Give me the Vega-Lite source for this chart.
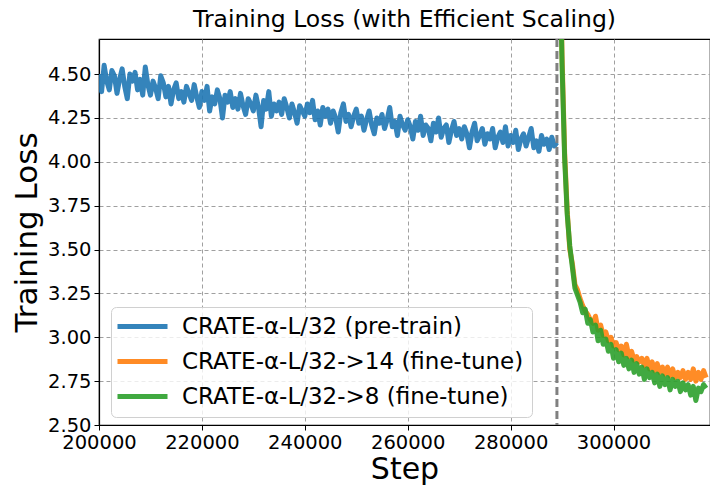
{
  "$schema": "https://vega.github.io/schema/vega-lite/v6.json",
  "width": 611,
  "height": 386,
  "autosize": {"type": "none"},
  "padding": {"left": 99, "top": 39, "right": 0, "bottom": 62},
  "title": {"text": "Training Loss (with Efficient Scaling)", "fontSize": 23.5, "fontWeight": "normal", "font": "DejaVu Sans", "color": "black", "offset": 6, "anchor": "middle"},
  "config": {
    "font": "DejaVu Sans",
    "view": {"stroke": "black", "strokeWidth": 1.2},
    "axis": {
      "grid": true, "gridDash": [4, 3], "gridColor": "#a0a0a0", "gridWidth": 1,
      "domainColor": "black", "domainWidth": 1.2, "tickColor": "black", "tickSize": 5,
      "labelFontSize": 19.5, "labelColor": "black", "labelPadding": 3,
      "titleFontSize": 30, "titleFontWeight": "normal", "titleColor": "black"
    }
  },
  "datasets": {
    "loss": [
      {"series": "CRATE-α-L/32 (pre-train)", "step": 200000, "loss": 4.50},
      {"series": "CRATE-α-L/32 (pre-train)", "step": 200500, "loss": 4.40},
      {"series": "CRATE-α-L/32 (pre-train)", "step": 201000, "loss": 4.55},
      {"series": "CRATE-α-L/32 (pre-train)", "step": 201500, "loss": 4.46},
      {"series": "CRATE-α-L/32 (pre-train)", "step": 202000, "loss": 4.41},
      {"series": "CRATE-α-L/32 (pre-train)", "step": 202500, "loss": 4.52},
      {"series": "CRATE-α-L/32 (pre-train)", "step": 203000, "loss": 4.49},
      {"series": "CRATE-α-L/32 (pre-train)", "step": 203500, "loss": 4.39},
      {"series": "CRATE-α-L/32 (pre-train)", "step": 204000, "loss": 4.47},
      {"series": "CRATE-α-L/32 (pre-train)", "step": 204500, "loss": 4.53},
      {"series": "CRATE-α-L/32 (pre-train)", "step": 205000, "loss": 4.43},
      {"series": "CRATE-α-L/32 (pre-train)", "step": 205500, "loss": 4.36},
      {"series": "CRATE-α-L/32 (pre-train)", "step": 206000, "loss": 4.50},
      {"series": "CRATE-α-L/32 (pre-train)", "step": 206500, "loss": 4.46},
      {"series": "CRATE-α-L/32 (pre-train)", "step": 207000, "loss": 4.51},
      {"series": "CRATE-α-L/32 (pre-train)", "step": 207500, "loss": 4.41},
      {"series": "CRATE-α-L/32 (pre-train)", "step": 208000, "loss": 4.47},
      {"series": "CRATE-α-L/32 (pre-train)", "step": 208500, "loss": 4.38},
      {"series": "CRATE-α-L/32 (pre-train)", "step": 209000, "loss": 4.54},
      {"series": "CRATE-α-L/32 (pre-train)", "step": 209500, "loss": 4.44},
      {"series": "CRATE-α-L/32 (pre-train)", "step": 210000, "loss": 4.38},
      {"series": "CRATE-α-L/32 (pre-train)", "step": 210500, "loss": 4.46},
      {"series": "CRATE-α-L/32 (pre-train)", "step": 211000, "loss": 4.42},
      {"series": "CRATE-α-L/32 (pre-train)", "step": 211500, "loss": 4.36},
      {"series": "CRATE-α-L/32 (pre-train)", "step": 212000, "loss": 4.49},
      {"series": "CRATE-α-L/32 (pre-train)", "step": 212500, "loss": 4.45},
      {"series": "CRATE-α-L/32 (pre-train)", "step": 213000, "loss": 4.37},
      {"series": "CRATE-α-L/32 (pre-train)", "step": 213500, "loss": 4.43},
      {"series": "CRATE-α-L/32 (pre-train)", "step": 214000, "loss": 4.33},
      {"series": "CRATE-α-L/32 (pre-train)", "step": 214500, "loss": 4.41},
      {"series": "CRATE-α-L/32 (pre-train)", "step": 215000, "loss": 4.45},
      {"series": "CRATE-α-L/32 (pre-train)", "step": 215500, "loss": 4.36},
      {"series": "CRATE-α-L/32 (pre-train)", "step": 216000, "loss": 4.40},
      {"series": "CRATE-α-L/32 (pre-train)", "step": 216500, "loss": 4.34},
      {"series": "CRATE-α-L/32 (pre-train)", "step": 217000, "loss": 4.43},
      {"series": "CRATE-α-L/32 (pre-train)", "step": 217500, "loss": 4.39},
      {"series": "CRATE-α-L/32 (pre-train)", "step": 218000, "loss": 4.35},
      {"series": "CRATE-α-L/32 (pre-train)", "step": 218500, "loss": 4.44},
      {"series": "CRATE-α-L/32 (pre-train)", "step": 219000, "loss": 4.37},
      {"series": "CRATE-α-L/32 (pre-train)", "step": 219500, "loss": 4.31},
      {"series": "CRATE-α-L/32 (pre-train)", "step": 220000, "loss": 4.40},
      {"series": "CRATE-α-L/32 (pre-train)", "step": 220500, "loss": 4.35},
      {"series": "CRATE-α-L/32 (pre-train)", "step": 221000, "loss": 4.43},
      {"series": "CRATE-α-L/32 (pre-train)", "step": 221500, "loss": 4.29},
      {"series": "CRATE-α-L/32 (pre-train)", "step": 222000, "loss": 4.37},
      {"series": "CRATE-α-L/32 (pre-train)", "step": 222500, "loss": 4.33},
      {"series": "CRATE-α-L/32 (pre-train)", "step": 223000, "loss": 4.41},
      {"series": "CRATE-α-L/32 (pre-train)", "step": 223500, "loss": 4.36},
      {"series": "CRATE-α-L/32 (pre-train)", "step": 224000, "loss": 4.25},
      {"series": "CRATE-α-L/32 (pre-train)", "step": 224500, "loss": 4.38},
      {"series": "CRATE-α-L/32 (pre-train)", "step": 225000, "loss": 4.34},
      {"series": "CRATE-α-L/32 (pre-train)", "step": 225500, "loss": 4.40},
      {"series": "CRATE-α-L/32 (pre-train)", "step": 226000, "loss": 4.31},
      {"series": "CRATE-α-L/32 (pre-train)", "step": 226500, "loss": 4.36},
      {"series": "CRATE-α-L/32 (pre-train)", "step": 227000, "loss": 4.30},
      {"series": "CRATE-α-L/32 (pre-train)", "step": 227500, "loss": 4.39},
      {"series": "CRATE-α-L/32 (pre-train)", "step": 228000, "loss": 4.32},
      {"series": "CRATE-α-L/32 (pre-train)", "step": 228500, "loss": 4.27},
      {"series": "CRATE-α-L/32 (pre-train)", "step": 229000, "loss": 4.36},
      {"series": "CRATE-α-L/32 (pre-train)", "step": 229500, "loss": 4.33},
      {"series": "CRATE-α-L/32 (pre-train)", "step": 230000, "loss": 4.29},
      {"series": "CRATE-α-L/32 (pre-train)", "step": 230500, "loss": 4.38},
      {"series": "CRATE-α-L/32 (pre-train)", "step": 231000, "loss": 4.31},
      {"series": "CRATE-α-L/32 (pre-train)", "step": 231500, "loss": 4.20},
      {"series": "CRATE-α-L/32 (pre-train)", "step": 232000, "loss": 4.35},
      {"series": "CRATE-α-L/32 (pre-train)", "step": 232500, "loss": 4.30},
      {"series": "CRATE-α-L/32 (pre-train)", "step": 233000, "loss": 4.40},
      {"series": "CRATE-α-L/32 (pre-train)", "step": 233500, "loss": 4.26},
      {"series": "CRATE-α-L/32 (pre-train)", "step": 234000, "loss": 4.33},
      {"series": "CRATE-α-L/32 (pre-train)", "step": 234500, "loss": 4.29},
      {"series": "CRATE-α-L/32 (pre-train)", "step": 235000, "loss": 4.34},
      {"series": "CRATE-α-L/32 (pre-train)", "step": 235500, "loss": 4.27},
      {"series": "CRATE-α-L/32 (pre-train)", "step": 236000, "loss": 4.36},
      {"series": "CRATE-α-L/32 (pre-train)", "step": 236500, "loss": 4.31},
      {"series": "CRATE-α-L/32 (pre-train)", "step": 237000, "loss": 4.25},
      {"series": "CRATE-α-L/32 (pre-train)", "step": 237500, "loss": 4.33},
      {"series": "CRATE-α-L/32 (pre-train)", "step": 238000, "loss": 4.28},
      {"series": "CRATE-α-L/32 (pre-train)", "step": 238500, "loss": 4.22},
      {"series": "CRATE-α-L/32 (pre-train)", "step": 239000, "loss": 4.32},
      {"series": "CRATE-α-L/32 (pre-train)", "step": 239500, "loss": 4.29},
      {"series": "CRATE-α-L/32 (pre-train)", "step": 240000, "loss": 4.26},
      {"series": "CRATE-α-L/32 (pre-train)", "step": 240500, "loss": 4.33},
      {"series": "CRATE-α-L/32 (pre-train)", "step": 241000, "loss": 4.28},
      {"series": "CRATE-α-L/32 (pre-train)", "step": 241500, "loss": 4.35},
      {"series": "CRATE-α-L/32 (pre-train)", "step": 242000, "loss": 4.24},
      {"series": "CRATE-α-L/32 (pre-train)", "step": 242500, "loss": 4.29},
      {"series": "CRATE-α-L/32 (pre-train)", "step": 243000, "loss": 4.21},
      {"series": "CRATE-α-L/32 (pre-train)", "step": 243500, "loss": 4.31},
      {"series": "CRATE-α-L/32 (pre-train)", "step": 244000, "loss": 4.26},
      {"series": "CRATE-α-L/32 (pre-train)", "step": 244500, "loss": 4.30},
      {"series": "CRATE-α-L/32 (pre-train)", "step": 245000, "loss": 4.22},
      {"series": "CRATE-α-L/32 (pre-train)", "step": 245500, "loss": 4.29},
      {"series": "CRATE-α-L/32 (pre-train)", "step": 246000, "loss": 4.25},
      {"series": "CRATE-α-L/32 (pre-train)", "step": 246500, "loss": 4.17},
      {"series": "CRATE-α-L/32 (pre-train)", "step": 247000, "loss": 4.28},
      {"series": "CRATE-α-L/32 (pre-train)", "step": 247500, "loss": 4.33},
      {"series": "CRATE-α-L/32 (pre-train)", "step": 248000, "loss": 4.23},
      {"series": "CRATE-α-L/32 (pre-train)", "step": 248500, "loss": 4.27},
      {"series": "CRATE-α-L/32 (pre-train)", "step": 249000, "loss": 4.20},
      {"series": "CRATE-α-L/32 (pre-train)", "step": 249500, "loss": 4.26},
      {"series": "CRATE-α-L/32 (pre-train)", "step": 250000, "loss": 4.30},
      {"series": "CRATE-α-L/32 (pre-train)", "step": 250500, "loss": 4.22},
      {"series": "CRATE-α-L/32 (pre-train)", "step": 251000, "loss": 4.26},
      {"series": "CRATE-α-L/32 (pre-train)", "step": 251500, "loss": 4.18},
      {"series": "CRATE-α-L/32 (pre-train)", "step": 252000, "loss": 4.24},
      {"series": "CRATE-α-L/32 (pre-train)", "step": 252500, "loss": 4.29},
      {"series": "CRATE-α-L/32 (pre-train)", "step": 253000, "loss": 4.21},
      {"series": "CRATE-α-L/32 (pre-train)", "step": 253500, "loss": 4.16},
      {"series": "CRATE-α-L/32 (pre-train)", "step": 254000, "loss": 4.25},
      {"series": "CRATE-α-L/32 (pre-train)", "step": 254500, "loss": 4.22},
      {"series": "CRATE-α-L/32 (pre-train)", "step": 255000, "loss": 4.27},
      {"series": "CRATE-α-L/32 (pre-train)", "step": 255500, "loss": 4.19},
      {"series": "CRATE-α-L/32 (pre-train)", "step": 256000, "loss": 4.24},
      {"series": "CRATE-α-L/32 (pre-train)", "step": 256500, "loss": 4.31},
      {"series": "CRATE-α-L/32 (pre-train)", "step": 257000, "loss": 4.20},
      {"series": "CRATE-α-L/32 (pre-train)", "step": 257500, "loss": 4.23},
      {"series": "CRATE-α-L/32 (pre-train)", "step": 258000, "loss": 4.15},
      {"series": "CRATE-α-L/32 (pre-train)", "step": 258500, "loss": 4.26},
      {"series": "CRATE-α-L/32 (pre-train)", "step": 259000, "loss": 4.21},
      {"series": "CRATE-α-L/32 (pre-train)", "step": 259500, "loss": 4.18},
      {"series": "CRATE-α-L/32 (pre-train)", "step": 260000, "loss": 4.24},
      {"series": "CRATE-α-L/32 (pre-train)", "step": 260500, "loss": 4.20},
      {"series": "CRATE-α-L/32 (pre-train)", "step": 261000, "loss": 4.13},
      {"series": "CRATE-α-L/32 (pre-train)", "step": 261500, "loss": 4.23},
      {"series": "CRATE-α-L/32 (pre-train)", "step": 262000, "loss": 4.18},
      {"series": "CRATE-α-L/32 (pre-train)", "step": 262500, "loss": 4.26},
      {"series": "CRATE-α-L/32 (pre-train)", "step": 263000, "loss": 4.15},
      {"series": "CRATE-α-L/32 (pre-train)", "step": 263500, "loss": 4.21},
      {"series": "CRATE-α-L/32 (pre-train)", "step": 264000, "loss": 4.19},
      {"series": "CRATE-α-L/32 (pre-train)", "step": 264500, "loss": 4.12},
      {"series": "CRATE-α-L/32 (pre-train)", "step": 265000, "loss": 4.22},
      {"series": "CRATE-α-L/32 (pre-train)", "step": 265500, "loss": 4.17},
      {"series": "CRATE-α-L/32 (pre-train)", "step": 266000, "loss": 4.25},
      {"series": "CRATE-α-L/32 (pre-train)", "step": 266500, "loss": 4.14},
      {"series": "CRATE-α-L/32 (pre-train)", "step": 267000, "loss": 4.19},
      {"series": "CRATE-α-L/32 (pre-train)", "step": 267500, "loss": 4.21},
      {"series": "CRATE-α-L/32 (pre-train)", "step": 268000, "loss": 4.11},
      {"series": "CRATE-α-L/32 (pre-train)", "step": 268500, "loss": 4.18},
      {"series": "CRATE-α-L/32 (pre-train)", "step": 269000, "loss": 4.23},
      {"series": "CRATE-α-L/32 (pre-train)", "step": 269500, "loss": 4.15},
      {"series": "CRATE-α-L/32 (pre-train)", "step": 270000, "loss": 4.19},
      {"series": "CRATE-α-L/32 (pre-train)", "step": 270500, "loss": 4.13},
      {"series": "CRATE-α-L/32 (pre-train)", "step": 271000, "loss": 4.20},
      {"series": "CRATE-α-L/32 (pre-train)", "step": 271500, "loss": 4.16},
      {"series": "CRATE-α-L/32 (pre-train)", "step": 272000, "loss": 4.08},
      {"series": "CRATE-α-L/32 (pre-train)", "step": 272500, "loss": 4.17},
      {"series": "CRATE-α-L/32 (pre-train)", "step": 273000, "loss": 4.22},
      {"series": "CRATE-α-L/32 (pre-train)", "step": 273500, "loss": 4.12},
      {"series": "CRATE-α-L/32 (pre-train)", "step": 274000, "loss": 4.15},
      {"series": "CRATE-α-L/32 (pre-train)", "step": 274500, "loss": 4.19},
      {"series": "CRATE-α-L/32 (pre-train)", "step": 275000, "loss": 4.10},
      {"series": "CRATE-α-L/32 (pre-train)", "step": 275500, "loss": 4.16},
      {"series": "CRATE-α-L/32 (pre-train)", "step": 276000, "loss": 4.13},
      {"series": "CRATE-α-L/32 (pre-train)", "step": 276500, "loss": 4.19},
      {"series": "CRATE-α-L/32 (pre-train)", "step": 277000, "loss": 4.08},
      {"series": "CRATE-α-L/32 (pre-train)", "step": 277500, "loss": 4.14},
      {"series": "CRATE-α-L/32 (pre-train)", "step": 278000, "loss": 4.17},
      {"series": "CRATE-α-L/32 (pre-train)", "step": 278500, "loss": 4.11},
      {"series": "CRATE-α-L/32 (pre-train)", "step": 279000, "loss": 4.20},
      {"series": "CRATE-α-L/32 (pre-train)", "step": 279500, "loss": 4.09},
      {"series": "CRATE-α-L/32 (pre-train)", "step": 280000, "loss": 4.15},
      {"series": "CRATE-α-L/32 (pre-train)", "step": 280500, "loss": 4.11},
      {"series": "CRATE-α-L/32 (pre-train)", "step": 281000, "loss": 4.18},
      {"series": "CRATE-α-L/32 (pre-train)", "step": 281500, "loss": 4.07},
      {"series": "CRATE-α-L/32 (pre-train)", "step": 282000, "loss": 4.13},
      {"series": "CRATE-α-L/32 (pre-train)", "step": 282500, "loss": 4.16},
      {"series": "CRATE-α-L/32 (pre-train)", "step": 283000, "loss": 4.09},
      {"series": "CRATE-α-L/32 (pre-train)", "step": 283500, "loss": 4.14},
      {"series": "CRATE-α-L/32 (pre-train)", "step": 284000, "loss": 4.19},
      {"series": "CRATE-α-L/32 (pre-train)", "step": 284500, "loss": 4.08},
      {"series": "CRATE-α-L/32 (pre-train)", "step": 285000, "loss": 4.12},
      {"series": "CRATE-α-L/32 (pre-train)", "step": 285500, "loss": 4.06},
      {"series": "CRATE-α-L/32 (pre-train)", "step": 286000, "loss": 4.15},
      {"series": "CRATE-α-L/32 (pre-train)", "step": 286500, "loss": 4.10},
      {"series": "CRATE-α-L/32 (pre-train)", "step": 287000, "loss": 4.13},
      {"series": "CRATE-α-L/32 (pre-train)", "step": 287500, "loss": 4.07},
      {"series": "CRATE-α-L/32 (pre-train)", "step": 288000, "loss": 4.14},
      {"series": "CRATE-α-L/32 (pre-train)", "step": 288500, "loss": 4.09},
      {"series": "CRATE-α-L/32 (pre-train)", "step": 289000, "loss": 4.11},

      {"series": "CRATE-α-L/32->14 (fine-tune)", "step": 289000, "loss": 7.0},
      {"series": "CRATE-α-L/32->14 (fine-tune)", "step": 289500, "loss": 5.35},
      {"series": "CRATE-α-L/32->14 (fine-tune)", "step": 290000, "loss": 4.6},
      {"series": "CRATE-α-L/32->14 (fine-tune)", "step": 290500, "loss": 4.05},
      {"series": "CRATE-α-L/32->14 (fine-tune)", "step": 291000, "loss": 3.72},
      {"series": "CRATE-α-L/32->14 (fine-tune)", "step": 291500, "loss": 3.50},
      {"series": "CRATE-α-L/32->14 (fine-tune)", "step": 292000, "loss": 3.42},
      {"series": "CRATE-α-L/32->14 (fine-tune)", "step": 292500, "loss": 3.30},
      {"series": "CRATE-α-L/32->14 (fine-tune)", "step": 293000, "loss": 3.27},
      {"series": "CRATE-α-L/32->14 (fine-tune)", "step": 293500, "loss": 3.22},
      {"series": "CRATE-α-L/32->14 (fine-tune)", "step": 294000, "loss": 3.18},
      {"series": "CRATE-α-L/32->14 (fine-tune)", "step": 294500, "loss": 3.15},
      {"series": "CRATE-α-L/32->14 (fine-tune)", "step": 295000, "loss": 3.13},
      {"series": "CRATE-α-L/32->14 (fine-tune)", "step": 295500, "loss": 3.10},
      {"series": "CRATE-α-L/32->14 (fine-tune)", "step": 296000, "loss": 3.08},
      {"series": "CRATE-α-L/32->14 (fine-tune)", "step": 296500, "loss": 3.12},
      {"series": "CRATE-α-L/32->14 (fine-tune)", "step": 297000, "loss": 3.04},
      {"series": "CRATE-α-L/32->14 (fine-tune)", "step": 297500, "loss": 3.07},
      {"series": "CRATE-α-L/32->14 (fine-tune)", "step": 298000, "loss": 3.01},
      {"series": "CRATE-α-L/32->14 (fine-tune)", "step": 298500, "loss": 3.03},
      {"series": "CRATE-α-L/32->14 (fine-tune)", "step": 299000, "loss": 2.98},
      {"series": "CRATE-α-L/32->14 (fine-tune)", "step": 299500, "loss": 3.00},
      {"series": "CRATE-α-L/32->14 (fine-tune)", "step": 300000, "loss": 2.95},
      {"series": "CRATE-α-L/32->14 (fine-tune)", "step": 300500, "loss": 2.97},
      {"series": "CRATE-α-L/32->14 (fine-tune)", "step": 301000, "loss": 2.93},
      {"series": "CRATE-α-L/32->14 (fine-tune)", "step": 301500, "loss": 2.95},
      {"series": "CRATE-α-L/32->14 (fine-tune)", "step": 302000, "loss": 2.90},
      {"series": "CRATE-α-L/32->14 (fine-tune)", "step": 302500, "loss": 2.96},
      {"series": "CRATE-α-L/32->14 (fine-tune)", "step": 303000, "loss": 2.89},
      {"series": "CRATE-α-L/32->14 (fine-tune)", "step": 303500, "loss": 2.92},
      {"series": "CRATE-α-L/32->14 (fine-tune)", "step": 304000, "loss": 2.87},
      {"series": "CRATE-α-L/32->14 (fine-tune)", "step": 304500, "loss": 2.89},
      {"series": "CRATE-α-L/32->14 (fine-tune)", "step": 305000, "loss": 2.86},
      {"series": "CRATE-α-L/32->14 (fine-tune)", "step": 305500, "loss": 2.88},
      {"series": "CRATE-α-L/32->14 (fine-tune)", "step": 306000, "loss": 2.84},
      {"series": "CRATE-α-L/32->14 (fine-tune)", "step": 306500, "loss": 2.88},
      {"series": "CRATE-α-L/32->14 (fine-tune)", "step": 307000, "loss": 2.82},
      {"series": "CRATE-α-L/32->14 (fine-tune)", "step": 307500, "loss": 2.86},
      {"series": "CRATE-α-L/32->14 (fine-tune)", "step": 308000, "loss": 2.81},
      {"series": "CRATE-α-L/32->14 (fine-tune)", "step": 308500, "loss": 2.85},
      {"series": "CRATE-α-L/32->14 (fine-tune)", "step": 309000, "loss": 2.80},
      {"series": "CRATE-α-L/32->14 (fine-tune)", "step": 309500, "loss": 2.83},
      {"series": "CRATE-α-L/32->14 (fine-tune)", "step": 310000, "loss": 2.79},
      {"series": "CRATE-α-L/32->14 (fine-tune)", "step": 310500, "loss": 2.83},
      {"series": "CRATE-α-L/32->14 (fine-tune)", "step": 311000, "loss": 2.78},
      {"series": "CRATE-α-L/32->14 (fine-tune)", "step": 311500, "loss": 2.82},
      {"series": "CRATE-α-L/32->14 (fine-tune)", "step": 312000, "loss": 2.77},
      {"series": "CRATE-α-L/32->14 (fine-tune)", "step": 312500, "loss": 2.80},
      {"series": "CRATE-α-L/32->14 (fine-tune)", "step": 313000, "loss": 2.77},
      {"series": "CRATE-α-L/32->14 (fine-tune)", "step": 313500, "loss": 2.81},
      {"series": "CRATE-α-L/32->14 (fine-tune)", "step": 314000, "loss": 2.76},
      {"series": "CRATE-α-L/32->14 (fine-tune)", "step": 314500, "loss": 2.80},
      {"series": "CRATE-α-L/32->14 (fine-tune)", "step": 315000, "loss": 2.76},
      {"series": "CRATE-α-L/32->14 (fine-tune)", "step": 315500, "loss": 2.82},
      {"series": "CRATE-α-L/32->14 (fine-tune)", "step": 316000, "loss": 2.75},
      {"series": "CRATE-α-L/32->14 (fine-tune)", "step": 316500, "loss": 2.80},
      {"series": "CRATE-α-L/32->14 (fine-tune)", "step": 317000, "loss": 2.76},
      {"series": "CRATE-α-L/32->14 (fine-tune)", "step": 317500, "loss": 2.81},
      {"series": "CRATE-α-L/32->14 (fine-tune)", "step": 318000, "loss": 2.77},

      {"series": "CRATE-α-L/32->8 (fine-tune)", "step": 289000, "loss": 7.0},
      {"series": "CRATE-α-L/32->8 (fine-tune)", "step": 289500, "loss": 5.3},
      {"series": "CRATE-α-L/32->8 (fine-tune)", "step": 290000, "loss": 4.55},
      {"series": "CRATE-α-L/32->8 (fine-tune)", "step": 290500, "loss": 4.02},
      {"series": "CRATE-α-L/32->8 (fine-tune)", "step": 291000, "loss": 3.70},
      {"series": "CRATE-α-L/32->8 (fine-tune)", "step": 291500, "loss": 3.52},
      {"series": "CRATE-α-L/32->8 (fine-tune)", "step": 292000, "loss": 3.40},
      {"series": "CRATE-α-L/32->8 (fine-tune)", "step": 292500, "loss": 3.28},
      {"series": "CRATE-α-L/32->8 (fine-tune)", "step": 293000, "loss": 3.24},
      {"series": "CRATE-α-L/32->8 (fine-tune)", "step": 293500, "loss": 3.20},
      {"series": "CRATE-α-L/32->8 (fine-tune)", "step": 294000, "loss": 3.14},
      {"series": "CRATE-α-L/32->8 (fine-tune)", "step": 294500, "loss": 3.16},
      {"series": "CRATE-α-L/32->8 (fine-tune)", "step": 295000, "loss": 3.08},
      {"series": "CRATE-α-L/32->8 (fine-tune)", "step": 295500, "loss": 3.10},
      {"series": "CRATE-α-L/32->8 (fine-tune)", "step": 296000, "loss": 3.03},
      {"series": "CRATE-α-L/32->8 (fine-tune)", "step": 296500, "loss": 3.07},
      {"series": "CRATE-α-L/32->8 (fine-tune)", "step": 297000, "loss": 2.98},
      {"series": "CRATE-α-L/32->8 (fine-tune)", "step": 297500, "loss": 3.04},
      {"series": "CRATE-α-L/32->8 (fine-tune)", "step": 298000, "loss": 2.96},
      {"series": "CRATE-α-L/32->8 (fine-tune)", "step": 298500, "loss": 2.99},
      {"series": "CRATE-α-L/32->8 (fine-tune)", "step": 299000, "loss": 2.92},
      {"series": "CRATE-α-L/32->8 (fine-tune)", "step": 299500, "loss": 2.96},
      {"series": "CRATE-α-L/32->8 (fine-tune)", "step": 300000, "loss": 2.88},
      {"series": "CRATE-α-L/32->8 (fine-tune)", "step": 300500, "loss": 2.93},
      {"series": "CRATE-α-L/32->8 (fine-tune)", "step": 301000, "loss": 2.86},
      {"series": "CRATE-α-L/32->8 (fine-tune)", "step": 301500, "loss": 2.91},
      {"series": "CRATE-α-L/32->8 (fine-tune)", "step": 302000, "loss": 2.84},
      {"series": "CRATE-α-L/32->8 (fine-tune)", "step": 302500, "loss": 2.88},
      {"series": "CRATE-α-L/32->8 (fine-tune)", "step": 303000, "loss": 2.82},
      {"series": "CRATE-α-L/32->8 (fine-tune)", "step": 303500, "loss": 2.87},
      {"series": "CRATE-α-L/32->8 (fine-tune)", "step": 304000, "loss": 2.80},
      {"series": "CRATE-α-L/32->8 (fine-tune)", "step": 304500, "loss": 2.85},
      {"series": "CRATE-α-L/32->8 (fine-tune)", "step": 305000, "loss": 2.79},
      {"series": "CRATE-α-L/32->8 (fine-tune)", "step": 305500, "loss": 2.83},
      {"series": "CRATE-α-L/32->8 (fine-tune)", "step": 306000, "loss": 2.76},
      {"series": "CRATE-α-L/32->8 (fine-tune)", "step": 306500, "loss": 2.82},
      {"series": "CRATE-α-L/32->8 (fine-tune)", "step": 307000, "loss": 2.77},
      {"series": "CRATE-α-L/32->8 (fine-tune)", "step": 307500, "loss": 2.80},
      {"series": "CRATE-α-L/32->8 (fine-tune)", "step": 308000, "loss": 2.74},
      {"series": "CRATE-α-L/32->8 (fine-tune)", "step": 308500, "loss": 2.79},
      {"series": "CRATE-α-L/32->8 (fine-tune)", "step": 309000, "loss": 2.72},
      {"series": "CRATE-α-L/32->8 (fine-tune)", "step": 309500, "loss": 2.78},
      {"series": "CRATE-α-L/32->8 (fine-tune)", "step": 310000, "loss": 2.73},
      {"series": "CRATE-α-L/32->8 (fine-tune)", "step": 310500, "loss": 2.77},
      {"series": "CRATE-α-L/32->8 (fine-tune)", "step": 311000, "loss": 2.70},
      {"series": "CRATE-α-L/32->8 (fine-tune)", "step": 311500, "loss": 2.76},
      {"series": "CRATE-α-L/32->8 (fine-tune)", "step": 312000, "loss": 2.72},
      {"series": "CRATE-α-L/32->8 (fine-tune)", "step": 312500, "loss": 2.75},
      {"series": "CRATE-α-L/32->8 (fine-tune)", "step": 313000, "loss": 2.69},
      {"series": "CRATE-α-L/32->8 (fine-tune)", "step": 313500, "loss": 2.74},
      {"series": "CRATE-α-L/32->8 (fine-tune)", "step": 314000, "loss": 2.70},
      {"series": "CRATE-α-L/32->8 (fine-tune)", "step": 314500, "loss": 2.73},
      {"series": "CRATE-α-L/32->8 (fine-tune)", "step": 315000, "loss": 2.67},
      {"series": "CRATE-α-L/32->8 (fine-tune)", "step": 315500, "loss": 2.72},
      {"series": "CRATE-α-L/32->8 (fine-tune)", "step": 316000, "loss": 2.64},
      {"series": "CRATE-α-L/32->8 (fine-tune)", "step": 316500, "loss": 2.71},
      {"series": "CRATE-α-L/32->8 (fine-tune)", "step": 317000, "loss": 2.69},
      {"series": "CRATE-α-L/32->8 (fine-tune)", "step": 317500, "loss": 2.73},
      {"series": "CRATE-α-L/32->8 (fine-tune)", "step": 318000, "loss": 2.71}
    ],
    "marker": [{"step": 289000}]
  },
  "layer": [
    {
      "data": {"name": "loss"},
      "mark": {"type": "line", "strokeWidth": 5, "opacity": 0.9, "clip": true, "strokeJoin": "round"},
      "encoding": {
        "x": {"field": "step", "type": "quantitative", "title": "Step",
              "scale": {"domain": [200000, 318750], "nice": false, "zero": false},
              "axis": {"values": [200000, 220000, 240000, 260000, 280000, 300000], "format": "d", "labelFlush": false, "titlePadding": 3}},
        "y": {"field": "loss", "type": "quantitative", "title": "Training Loss",
              "scale": {"domain": [2.5, 4.7], "nice": false, "zero": false},
              "axis": {"values": [2.5, 2.75, 3.0, 3.25, 3.5, 3.75, 4.0, 4.25, 4.5], "format": ".2f", "titlePadding": 4, "titleFontSize": 31}},
        "color": {"field": "series", "type": "nominal",
                  "scale": {"domain": ["CRATE-α-L/32 (pre-train)", "CRATE-α-L/32->14 (fine-tune)", "CRATE-α-L/32->8 (fine-tune)"],
                            "range": ["#1f77b4", "#ff7f0e", "#2ca02c"]},
                  "legend": {"title": null, "orient": "none", "legendX": 12, "legendY": 268,
                             "labelFontSize": 23, "labelColor": "black", "labelLimit": 0,
                             "symbolType": "M-5,0H5", "symbolSize": 100, "symbolStrokeWidth": 5, "symbolOffset": 12,
                             "fillColor": "rgba(255,255,255,0.8)", "strokeColor": "#d0d0d0",
                             "cornerRadius": 5, "padding": 8, "rowPadding": 11, "labelOffset": 28}},
        "order": {"field": "step", "type": "quantitative"}
      }
    },
    {
      "data": {"name": "marker"},
      "mark": {"type": "rule", "color": "#808080", "strokeWidth": 3, "strokeDash": [8, 4]},
      "encoding": {"x": {"field": "step", "type": "quantitative"}}
    }
  ]
}
